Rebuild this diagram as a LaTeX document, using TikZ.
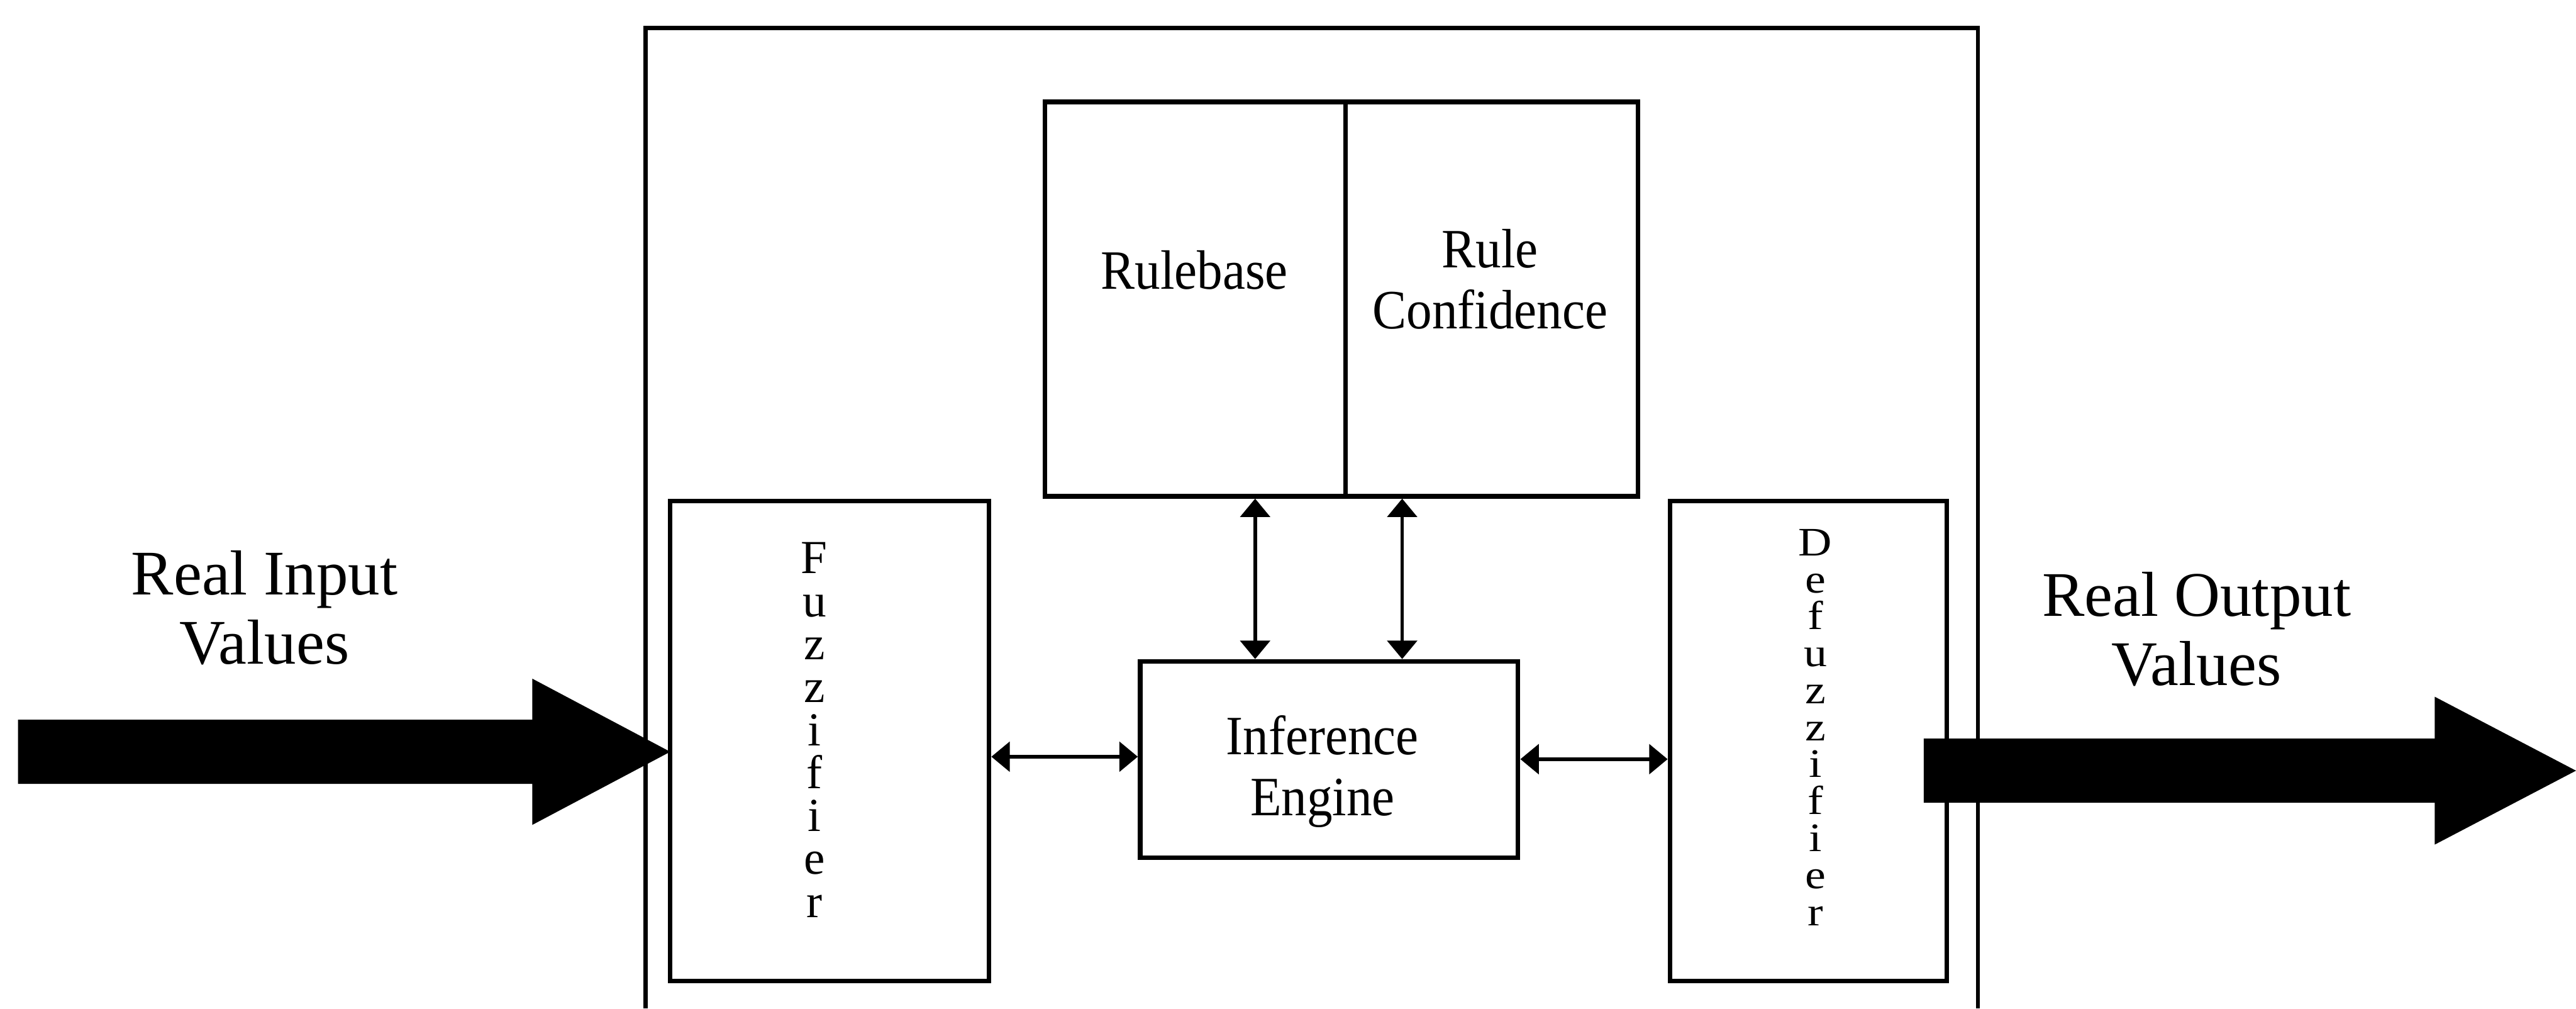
\documentclass[tikz,border=0pt]{standalone}
\usepackage{fontspec}
\setmainfont{Liberation Serif}
\newfontfamily\boxserif[FakeStretch=0.92]{Liberation Serif}
\newfontfamily\wideserif[FakeStretch=1.15]{Liberation Serif}
\usetikzlibrary{arrows.meta}

\begin{document}
\begin{tikzpicture}[x=0.025cm, y=-0.025cm,
  frame/.style={line width=1.8pt},
  block/.style={draw, line width=2pt, inner sep=0pt},
  biglabel/.style={font=\fontsize{27.5}{33}\selectfont, anchor=base, inner sep=0pt},
  boxlabel/.style={font=\boxserif\fontsize{24}{28}\selectfont, anchor=base, inner sep=0pt},
  stacklabel/.style={align=center, inner sep=0pt},
  link/.style={line width=1.5pt,
    {Triangle[length=0.28cm,width=0.45cm]}-{Triangle[length=0.28cm,width=0.45cm]}},
  fatarrow/.style={fill=black}]

\useasboundingbox (0,0) rectangle (1568,613.7);

% controller frame, open at the bottom
\draw[frame] (393,613.7) -- (393,17) -- (1204,17) -- (1204,613.7);

% blocks
\node[block, minimum width=4.575cm, minimum height=6cm] (rb) at (727.5,182) {};
\node[block, minimum width=4.45cm, minimum height=6cm] (rc) at (908,182) {};
\node[block, minimum width=4.85cm, minimum height=7.3cm] (fz) at (505,451) {};
\node[block, minimum width=4.2125cm, minimum height=7.3cm] (dz) at (1100.75,451) {};
\node[block, minimum width=5.75cm, minimum height=2.9875cm] (ie) at (809,462.25) {};

% block labels
\node[boxlabel] (rbt) at (727,176) {Rulebase};
\node[boxlabel] (rcA) at (907,163) {Rule};
\node[boxlabel] (rcB) at (907,200) {Confidence};
\node[boxlabel] (ieA) at (805,459) {Inference};
\node[boxlabel] (ieB) at (805,496.5) {Engine};
\node[stacklabel, font={\fontsize{20.5}{18.6}\selectfont\lineskiplimit=-30pt}]
  (fzt) at (495.7,444.2) {F\\u\\z\\z\\i\\f\\i\\e\\r};
\node[stacklabel, font={\wideserif\fontsize{17.5}{16}\selectfont\lineskiplimit=-30pt}]
  (dzt) at (1105,442.6) {D\\e\\f\\u\\z\\z\\i\\f\\i\\e\\r};

% two-way links
\coordinate (va) at (764,0);
\coordinate (vb) at (853.5,0);
\coordinate (ha) at (0,460.5);
\coordinate (hb) at (0,462);
\draw[link] (va |- rb.south) -- (va |- ie.north);
\draw[link] (vb |- rc.south) -- (vb |- ie.north);
\draw[link] (fz.east |- ha) -- (ie.west |- ha);
\draw[link] (ie.east |- hb) -- (dz.west |- hb);

% input and output block arrows
\fill[fatarrow] (11,438) -- (324,438) -- (324,413) -- (408,457.5)
  -- (324,502) -- (324,477) -- (11,477) -- cycle;
\fill[fatarrow] (1171,449.5) -- (1482,449.5) -- (1482,424) -- (1568,469)
  -- (1482,514) -- (1482,488.5) -- (1171,488.5) -- cycle;

% outside labels
\node[biglabel] (inA) at (161,362) {Real Input};
\node[biglabel] (inB) at (161,404) {Values};
\node[biglabel] (outA) at (1337,375) {Real Output};
\node[biglabel] (outB) at (1337,417) {Values};
\end{tikzpicture}
\end{document}
